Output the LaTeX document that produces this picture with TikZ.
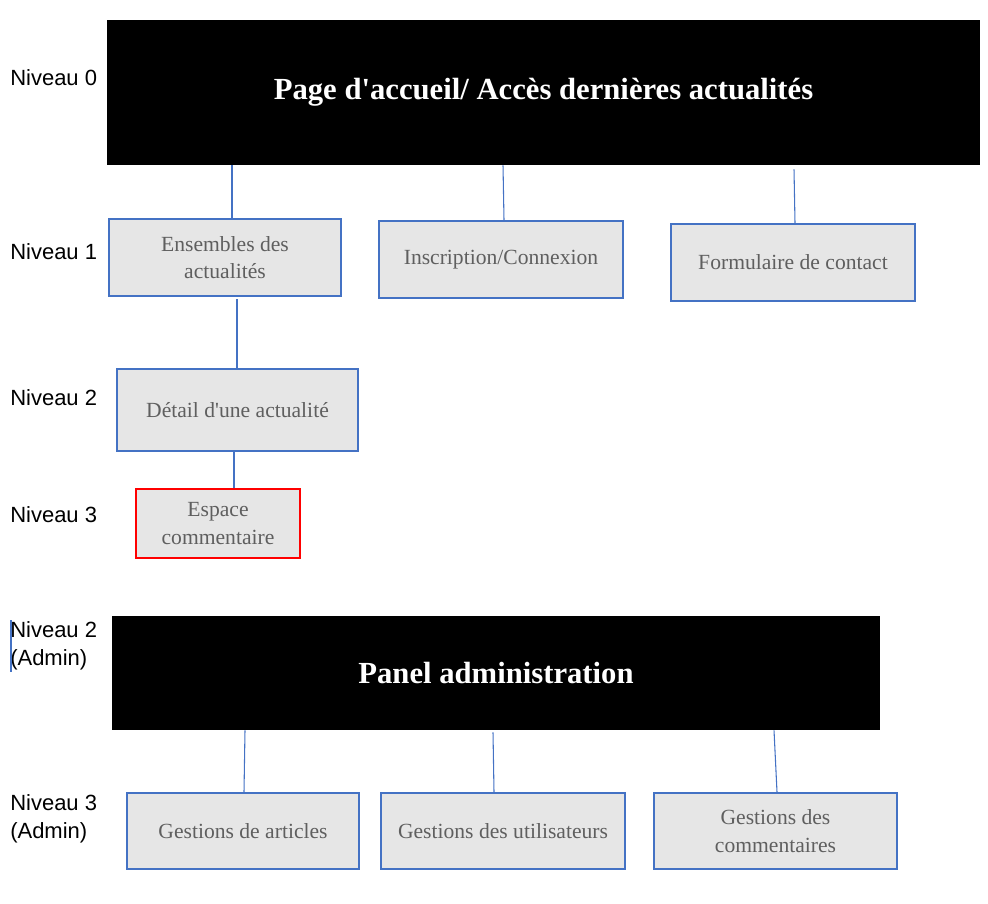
\documentclass[tikz,border=0pt]{standalone}
\usepackage{fontspec}
\setmainfont{Liberation Serif}
\newfontfamily\labelfont{Liberation Sans}
\definecolor{boxblue}{HTML}{4472C4}
\definecolor{boxfill}{HTML}{E6E6E6}
\definecolor{boxtext}{HTML}{5F5F5F}
\definecolor{boxred}{HTML}{FF0000}
\begin{document}
\begin{tikzpicture}[x=0.75pt,y=-0.75pt,
  lvl/.style={anchor=west,inner sep=0pt,align=left,font=\labelfont\fontsize{16.5}{21}\selectfont},
  bigbox/.style={fill=black,text=white,inner sep=0pt,font=\bfseries\fontsize{23}{28}\selectfont},
  pagebox/.style={draw=boxblue,line width=1.5pt,fill=boxfill,text=boxtext,inner sep=0pt,align=center,font=\fontsize{16.2}{20.5}\selectfont},
  redbox/.style={pagebox,draw=boxred},
  conn/.style={draw=boxblue,line width=0.8pt}]
\useasboundingbox (0,0) rectangle (988,903);
% level labels
\node[lvl] (l0) at (10,78) {Niveau 0};
\node[lvl] (l1) at (10,252) {Niveau 1};
\node[lvl] (l2) at (10,398) {Niveau 2};
\node[lvl] (l3) at (10,515) {Niveau 3};
\node[lvl] (l2a) at (10,646) {Niveau 2\\(Admin)};
\node[lvl] (l3a) at (10,819) {Niveau 3\\(Admin)};
\coordinate (cur1) at (11,620);
\coordinate (cur2) at (11,672);
\draw[conn] (cur1) -- (cur2);
% big boxes
\node[bigbox,minimum width=873*0.75pt,minimum height=145*0.75pt] (top) at (543.5,92.5) {\raisebox{-2pt}{Page d\textquotesingle accueil/ Accès dernières actualités}};
\node[bigbox,minimum width=768*0.75pt,minimum height=114*0.75pt] (admin) at (496,673) {Panel administration};
% level 1
\node[pagebox,minimum width=232*0.75pt,minimum height=77*0.75pt] (b1) at (225,257.5) {Ensembles des\\actualités};
\node[pagebox,minimum width=244*0.75pt,minimum height=77*0.75pt] (b2) at (501,259.5) {Inscription/Connexion};
\node[pagebox,minimum width=244*0.75pt,minimum height=77*0.75pt] (b3) at (793,262.5) {Formulaire de contact};
% level 2,3
\node[pagebox,minimum width=241*0.75pt,minimum height=82*0.75pt] (det) at (237.5,410) {Détail d\textquotesingle une actualité};
\node[redbox,minimum width=164*0.75pt,minimum height=69*0.75pt] (esp) at (218,523.5) {Espace\\commentaire};
% admin level 3
\node[pagebox,minimum width=232*0.75pt,minimum height=76*0.75pt] (g1) at (243,831) {Gestions de articles};
\node[pagebox,minimum width=244*0.75pt,minimum height=76*0.75pt] (g2) at (503,831) {Gestions des utilisateurs};
\node[pagebox,minimum width=243*0.75pt,minimum height=76*0.75pt] (g3) at (775.5,831) {Gestions des\\commentaires};
% connectors
\draw[conn] (top.south -| 232,0) -- (b1.north -| 232,0);
\draw[conn] (top.south -| 503,0) -- (b2.north -| 504,0);
\draw[conn] ([yshift=-4*0.75pt]top.south -| 794,0) -- (b3.north -| 795,0);
\draw[conn] ([yshift=-1.5pt]b1.south -| 237,0) -- (det.north -| 237,0);
\draw[conn] (det.south -| 234,0) -- (esp.north -| 234,0);
\draw[conn] (admin.south -| 245,0) -- (g1.north -| 244,0);
\draw[conn] ([yshift=-2*0.75pt]admin.south -| 493,0) -- (g2.north -| 494,0);
\draw[conn] (admin.south -| 774,0) -- (g3.north -| 777,0);
\end{tikzpicture}
\end{document}
